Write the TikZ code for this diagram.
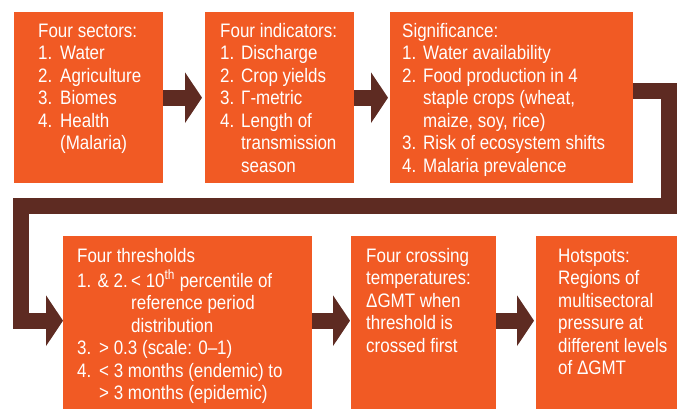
\documentclass[tikz,border=0pt]{standalone}
\usepackage{fontspec}
\setmainfont{Liberation Sans}[FakeStretch=0.87]
\usetikzlibrary{arrows.meta}

\definecolor{boxorange}{HTML}{F15A24}
\definecolor{flowbrown}{HTML}{5E2B22}

% numbered line and its continuation (hanging indent)
\newcommand\itemno[2][22pt]{\makebox[#1][l]{#2}}
\newcommand\itemcont[1][22pt]{\hspace*{#1}}

\begin{document}
\begin{tikzpicture}[x=1pt, y=-1pt,
  box/.style={fill=boxorange, draw=none, inner sep=0pt, anchor=north west},
  txt/.style={text=white, align=left, inner sep=0pt, anchor=north west,
              font=\fontsize{19.5}{22.5}\selectfont},
  flow/.style={draw=flowbrown, line width=16pt, line join=miter,
               -{Triangle[length=17pt, width=50pt]}}]

  \useasboundingbox (0,0) rectangle (677,409);

  % Top row
  \node[box, minimum width=149pt, minimum height=171pt] (sectors) at (14,12) {};
  \node[box, minimum width=149pt, minimum height=171pt] (indicators) at (205,12) {};
  \node[box, minimum width=243pt, minimum height=171pt] (signif) at (390,12) {};

  % Bottom row (runs off the lower edge)
  \node[box, minimum width=249pt, minimum height=173pt] (thresh) at (63,236) {};
  \node[box, minimum width=145pt, minimum height=173pt] (crossing) at (351,236) {};
  \node[box, minimum width=141pt, minimum height=173pt] (hotspots) at (536,236) {};

  % Texts
  \node[txt] (sectorstxt) at ([shift={(24,9.25)}]sectors.north west)
    {\strut Four sectors:\\ \itemno{1.}Water\\ \itemno{2.}Agriculture\\
     \itemno{3.}Biomes\\ \itemno{4.}Health\\ \itemcont(Malaria)};
  \node[txt] (indicatorstxt) at ([shift={(15,9.25)}]indicators.north west)
    {\strut Four indicators:\\ \itemno[21pt]{1.}Discharge\\ \itemno[21pt]{2.}Crop yields\\
     \itemno[21pt]{3.}Γ-metric\\ \itemno[21pt]{4.}Length of\\
     \itemcont[21pt]transmission\\ \itemcont[21pt]season};
  \node[txt] (signiftxt) at ([shift={(12,9.25)}]signif.north west)
    {\strut Significance:\\ \itemno[21pt]{1.}Water availability\\
     \itemno[21pt]{2.}Food production in 4\\ \itemcont[21pt]staple crops (wheat,\\
     \itemcont[21pt]maize, soy, rice)\\ \itemno[21pt]{3.}Risk of ecosystem shifts\\
     \itemno[21pt]{4.}Malaria prevalence};
  \node[txt] (threshtxt) at ([shift={(14,10.25)}]thresh.north west)
    {\strut Four thresholds\\
     \itemno[54pt]{1. \& 2.}< 10\textsuperscript{th} percentile of\\
     \itemcont[54pt]reference period\\ \itemcont[54pt]distribution\\
     \itemno{3.}> 0.3 (scale: 0–1)\\ \itemno{4.}< 3 months (endemic) to\\
     \itemcont> 3 months (epidemic)};
  \node[txt] (crossingtxt) at ([shift={(15,10.25)}]crossing.north west)
    {\strut Four crossing\\ temperatures:\\ ΔGMT when\\ threshold is\\ crossed first};
  \node[txt] (hotspotstxt) at ([shift={(22,10.25)}]hotspots.north west)
    {\strut Hotspots:\\ Regions of\\ multisectoral\\ pressure at\\ different levels\\ of ΔGMT};

  % Connectors
  \coordinate (turnR) at (669,206);
  \coordinate (turnL) at (21,206);

  \draw[flow, shorten >=3pt] (sectors) -- (indicators);
  \draw[flow, shorten >=2pt] (indicators) -- (signif.west |- indicators);
  \draw[flow] ([yshift=6.5pt]signif.east) -| (turnR) -- (turnL) |- ([yshift=2pt]thresh.west);
  \draw[flow, shorten >=1pt] ([yshift=2pt]thresh.east) -- ([yshift=2pt]crossing.west);
  \draw[flow, shorten >=2pt] ([yshift=2pt]crossing.east) -- ([yshift=2pt]hotspots.west);

\end{tikzpicture}
\end{document}
